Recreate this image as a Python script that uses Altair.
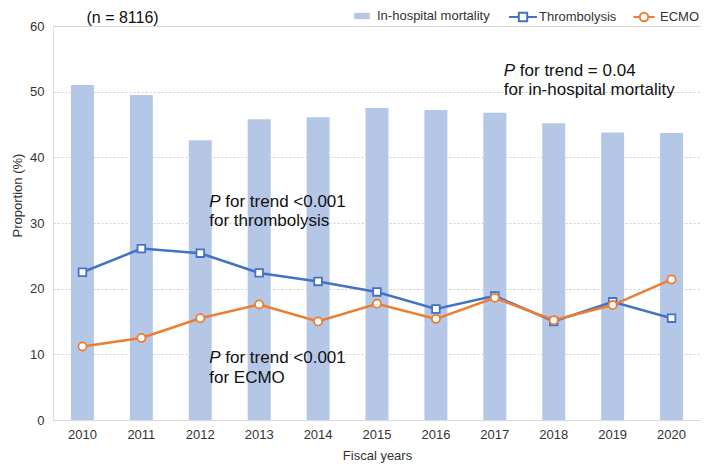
import altair as alt
import pandas as pd

# ---- data ----
years = [2010, 2011, 2012, 2013, 2014, 2015, 2016, 2017, 2018, 2019, 2020]
mortality = [51.0, 49.5, 42.6, 45.8, 46.1, 47.5, 47.2, 46.8, 45.2, 43.8, 43.7]
thrombolysis = [22.5, 26.1, 25.4, 22.4, 21.1, 19.5, 16.9, 18.9, 15.0, 18.0, 15.5]
ecmo = [11.2, 12.5, 15.5, 17.6, 15.0, 17.7, 15.4, 18.6, 15.2, 17.5, 21.4]

series_names = ["In-hospital mortality", "Thrombolysis", "ECMO"]
series_colors = ["#b4c7e7", "#4472c4", "#ed7d31"]

subtitle = ["(n = 8116)"]
subtitle_year = [2010]
subtitle_y = [60.45]

ann_years = [2017, 2012, 2012]
ann_line1_y = [52.4, 32.4, 8.7]
ann_line1_text = ["for trend = 0.04", "for trend <0.001", "for trend <0.001"]
ann_line2_y = [49.5, 29.5, 5.6]
ann_line2_text = ["for in-hospital mortality", "for thrombolysis", "for ECMO"]

FONT = "Liberation Sans"
TXT = "#333333"

bar_df = pd.DataFrame({"year": years, "value": mortality, "series": series_names[0]})
thr_df = pd.DataFrame({"year": years, "value": thrombolysis, "series": series_names[1]})
ecmo_df = pd.DataFrame({"year": years, "value": ecmo, "series": series_names[2]})
ann1_df = pd.DataFrame({"year": ann_years, "value": ann_line1_y, "text": ann_line1_text})
ann2_df = pd.DataFrame({"year": ann_years, "value": ann_line2_y, "text": ann_line2_text})
sub_df = pd.DataFrame({"year": subtitle_year, "value": subtitle_y, "text": subtitle})

# legend symbols (custom SVG paths in the [-1,1] symbol space)
SYM_BAR = "M-1.1,-0.45H1.1V0.45H-1.1Z"
SYM_THR = "M-2,0H-0.6M0.6,0H2M-0.6,-0.6H0.6V0.6H-0.6Z"
SYM_ECMO = "M-1.5,0H-0.6M0.6,0H1.5M0.6,0A0.6,0.6,0,1,1,-0.6,0A0.6,0.6,0,1,1,0.6,0Z"


def make_legend(x, sym, fill, stroke, sw):
    return alt.Legend(
        title=None, orient="none", direction="horizontal", legendX=x, legendY=-17,
        labelFontSize=13, labelColor=TXT, labelFont=FONT,
        symbolSize=196, labelOffset=8, padding=0,
        symbolType=sym, symbolFillColor=fill, symbolStrokeColor=stroke,
        symbolStrokeWidth=sw, symbolOpacity=1,
    )


x_enc = alt.X(
    "year:O",
    scale=alt.Scale(paddingInner=0.61, paddingOuter=0.305),
    axis=alt.Axis(
        title="Fiscal years", labelAngle=0, ticks=False, grid=False,
        domainColor="#d9d9d9", domainWidth=1, labelPadding=8,
        labelFontSize=13, labelColor=TXT, labelFont=FONT,
        titleFontSize=13, titleFontWeight="normal", titleColor=TXT, titleFont=FONT,
        titleY=39, titleBaseline="alphabetic",
    ),
)
y_enc = alt.Y(
    "value:Q", scale=alt.Scale(domain=[0, 60], nice=False),
    axis=alt.Axis(
        title="Proportion (%)", values=[0, 10, 20, 30, 40, 50, 60], domain=False, ticks=False,
        grid=True, gridDash=[2, 2], gridColor="#cfcfcf", gridWidth=1,
        labelPadding=9, labelFontSize=13, labelColor=TXT, labelFont=FONT,
        titleFontSize=13, titleFontWeight="normal", titleColor=TXT, titleFont=FONT,
        titleX=-32, titleY=169, titleBaseline="alphabetic", titleAngle=-90,
    ),
)

bars = alt.Chart(bar_df).mark_bar(opacity=1).encode(
    x=x_enc, y=y_enc,
    color=alt.Color("series:N", scale=alt.Scale(domain=series_names[:1], range=series_colors[:1]),
                    legend=make_legend(302, SYM_BAR, series_colors[0], series_colors[0], 0)),
)

thr_line = alt.Chart(thr_df).mark_line(strokeWidth=2.5, color=series_colors[1]).encode(
    x="year:O", y="value:Q")
thr_pts = alt.Chart(thr_df).mark_point(
    shape="square", filled=True, fill="#ffffff", size=58, strokeWidth=1.8, opacity=1
).encode(
    x="year:O", y="value:Q",
    stroke=alt.Stroke("series:N", scale=alt.Scale(domain=series_names[1:2], range=series_colors[1:2]),
                      legend=make_legend(462, SYM_THR, "#ffffff", series_colors[1], 2)),
)

ecmo_line = alt.Chart(ecmo_df).mark_line(strokeWidth=2.5, color=series_colors[2]).encode(
    x="year:O", y="value:Q")
ecmo_pts = alt.Chart(ecmo_df).mark_point(
    shape="circle", filled=True, fill="#ffffff", size=66, strokeWidth=1.8, opacity=1
).encode(
    x="year:O", y="value:Q",
    stroke=alt.Stroke("series:N", scale=alt.Scale(domain=series_names[2:3], range=series_colors[2:3]),
                      legend=make_legend(583, SYM_ECMO, "#ffffff", series_colors[2], 2)),
)

sub_text = alt.Chart(sub_df).mark_text(
    align="left", baseline="alphabetic", dx=4, fontSize=16, font=FONT, color="#111111"
).encode(x="year:O", y="value:Q", text="text:N")

p_text = alt.Chart(ann1_df).mark_text(
    align="left", baseline="alphabetic", dx=9, fontSize=17, fontStyle="italic", font=FONT, color="#111111"
).encode(x="year:O", y="value:Q", text=alt.value("P"))

line1_text = alt.Chart(ann1_df).mark_text(
    align="left", baseline="alphabetic", dx=25, fontSize=17, font=FONT, color="#111111"
).encode(x="year:O", y="value:Q", text="text:N")

line2_text = alt.Chart(ann2_df).mark_text(
    align="left", baseline="alphabetic", dx=9, fontSize=17, font=FONT, color="#111111"
).encode(x="year:O", y="value:Q", text="text:N")

chart = alt.layer(
    bars, thr_line, thr_pts, ecmo_line, ecmo_pts, sub_text, p_text, line1_text, line2_text
).resolve_scale(stroke="independent").resolve_legend(stroke="independent").properties(
    width=648, height=394,
    padding={"left": 45, "top": 18, "right": 0, "bottom": 43},
    autosize="none",
).configure_view(stroke=None).configure(background="#ffffff")

chart.save("out.html", embed_options={"renderer": "svg", "actions": False})
